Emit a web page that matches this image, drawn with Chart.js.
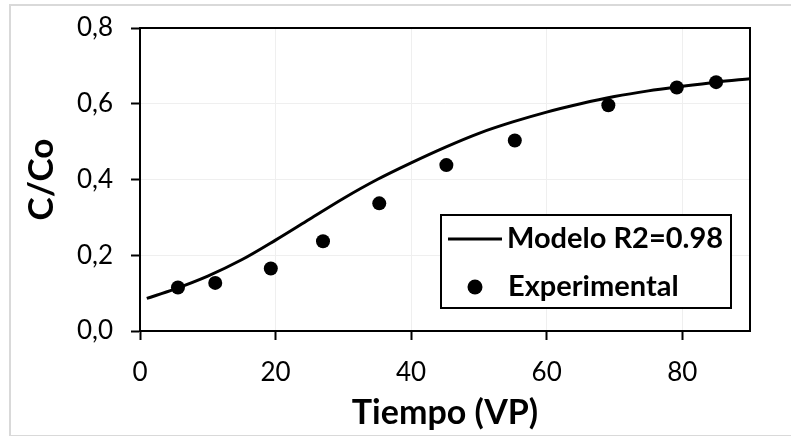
<!DOCTYPE html>
<html>
<head>
<meta charset="utf-8">
<script src="https://cdn.jsdelivr.net/npm/chart.js@4.4.1/dist/chart.umd.min.js"></script>
<style>
    html, body {
        margin: 0;
        padding: 0;
        background: #ffffff;
        overflow: hidden;
    }

    #wrap {
        position: relative;
        width: 791px;
        height: 436px;
    }

    /* light outer frame around the figure */
    #frame {
        position: absolute;
        left: 9px;
        top: 4px;
        width: 820px;
        height: 429px;
        border: 2px solid #d9d9d9;
        pointer-events: none;
    }

    #curve-chart {
        position: absolute;
        left: 0;
        top: 0;
    }
</style>
</head>
<body>
<div id="wrap">
    <div id="frame"></div>
    <canvas id="curve-chart" width="791" height="436"></canvas>
</div>

<script>
/* ==========================================================
   BREAKTHROUGH CURVE  C/Co vs Tiempo (VP)
   ========================================================== */

// fitted model curve
const modelX = [1, 5, 10, 15, 20, 25, 30, 35, 40, 45, 50, 55, 60, 65, 70, 75, 80, 85, 90];
const modelY = [0.086, 0.110, 0.145, 0.188, 0.240, 0.295, 0.350, 0.400, 0.444, 0.485,
                0.522, 0.552, 0.578, 0.600, 0.619, 0.634, 0.646, 0.657, 0.666];

// measured points
const expX = [5.6, 11.1, 19.3, 27.0, 35.3, 45.2, 55.3, 69.1, 79.2, 85.0];
const expY = [0.115, 0.127, 0.165, 0.237, 0.337, 0.438, 0.503, 0.596, 0.643, 0.657];

const seriesLabels = ["Modelo R2=0.98", "Experimental"];

const xTicks = [0, 20, 40, 60, 80];
const yTicks = [0, 0.2, 0.4, 0.6, 0.8];

const xTitle = "Tiempo (VP)";
const yTitle = "C/Co";

const FONT = "Lato";


function toPoints(xs, ys) {
    return xs.map((x, i) => ({ x: x, y: ys[i] }));
}


// black frame around the plotting area
const plotBorder = {
    id: "plotBorder",
    beforeDatasetsDraw(chart) {
        const { ctx, chartArea } = chart;
        ctx.save();
        ctx.strokeStyle = "#000000";
        ctx.lineWidth = 2;
        ctx.strokeRect(
            chartArea.left,
            chartArea.top,
            chartArea.right - chartArea.left,
            chartArea.bottom - chartArea.top
        );
        ctx.restore();
    }
};


// boxed legend sitting inside the lower right of the plot
const boxLegend = {
    id: "boxLegend",
    afterDraw(chart) {
        const { ctx, chartArea } = chart;
        const bx = chartArea.left + 301;
        const by = chartArea.bottom - 116;
        const bw = 290;
        const bh = 93;

        ctx.save();
        ctx.fillStyle = "#ffffff";
        ctx.fillRect(bx, by, bw, bh);
        ctx.strokeStyle = "#000000";
        ctx.lineWidth = 2;
        ctx.strokeRect(bx, by, bw, bh);

        const line = chart.data.datasets[0];
        const dots = chart.data.datasets[1];

        ctx.strokeStyle = line.borderColor;
        ctx.lineWidth = line.borderWidth;
        ctx.beginPath();
        ctx.moveTo(bx + 7, by + 24);
        ctx.lineTo(bx + 61, by + 24);
        ctx.stroke();

        ctx.fillStyle = dots.backgroundColor;
        ctx.beginPath();
        ctx.arc(bx + 34, by + 72, 7.5, 0, Math.PI * 2);
        ctx.fill();

        ctx.fillStyle = "#000000";
        ctx.font = "bold 29px " + FONT;
        ctx.textAlign = "left";
        ctx.textBaseline = "alphabetic";
        ctx.fillText(line.label, bx + 66, by + 33);
        ctx.fillText(dots.label, bx + 67, by + 81);
        ctx.restore();
    }
};


function drawChart() {

    const canvas = document.querySelector("#curve-chart");

    new Chart(canvas, {
        type: "scatter",
        data: {
            datasets: [
                {
                    label: seriesLabels[0],
                    data: toPoints(modelX, modelY),
                    showLine: true,
                    cubicInterpolationMode: "monotone",
                    borderColor: "#000000",
                    borderWidth: 3,
                    pointRadius: 0,
                    pointHoverRadius: 0,
                    order: 2
                },
                {
                    label: seriesLabels[1],
                    data: toPoints(expX, expY),
                    showLine: false,
                    backgroundColor: "#000000",
                    borderColor: "#000000",
                    pointRadius: 7,
                    pointBorderWidth: 0,
                    order: 1
                }
            ]
        },
        options: {
            responsive: false,
            animation: false,
            events: [],
            layout: {
                padding: { left: 21, top: 28, right: 41, bottom: 3 }
            },
            plugins: {
                legend: { display: false },
                tooltip: { enabled: false }
            },
            scales: {
                x: {
                    type: "linear",
                    min: xTicks[0],
                    max: 90,
                    afterBuildTicks(scale) {
                        scale.ticks = xTicks.map(v => ({ value: v }));
                    },
                    afterFit(scale) {
                        scale.height = 102;
                    },
                    grid: {
                        color: "#efefef",
                        lineWidth: 1,
                        tickColor: "#000000",
                        tickWidth: 2,
                        tickLength: 9
                    },
                    border: { color: "#000000", width: 2 },
                    ticks: {
                        color: "#000000",
                        padding: 17,
                        maxRotation: 0,
                        font: { family: FONT, size: 26 }
                    },
                    title: {
                        display: true,
                        text: xTitle,
                        color: "#000000",
                        padding: 0,
                        font: { family: FONT, size: 34, weight: "bold" }
                    }
                },
                y: {
                    type: "linear",
                    min: yTicks[0],
                    max: yTicks[yTicks.length - 1],
                    afterBuildTicks(scale) {
                        scale.ticks = yTicks.map(v => ({ value: v }));
                    },
                    afterFit(scale) {
                        scale.width = 119;
                        // let the layout padding alone decide the plot top
                        scale.paddingTop = 0;
                        scale.paddingBottom = 0;
                    },
                    grid: {
                        color: "#efefef",
                        lineWidth: 1,
                        tickColor: "#000000",
                        tickWidth: 2,
                        tickLength: 9
                    },
                    border: { color: "#000000", width: 2 },
                    ticks: {
                        color: "#000000",
                        padding: 18,
                        font: { family: FONT, size: 26 },
                        callback: v => v.toFixed(1).replace(".", ",")
                    },
                    title: {
                        display: true,
                        text: yTitle,
                        color: "#000000",
                        padding: 0,
                        font: { family: FONT, size: 35, weight: "bold" }
                    }
                }
            }
        },
        plugins: [plotBorder, boxLegend]
    });
}


Promise.all([
    document.fonts.load("26px " + FONT),
    document.fonts.load("bold 35px " + FONT)
]).then(drawChart, drawChart);
</script>
</body>
</html>
